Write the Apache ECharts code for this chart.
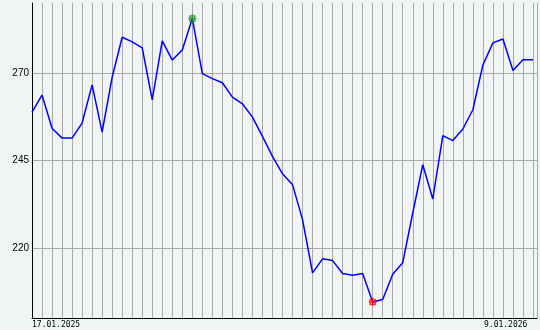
<!DOCTYPE html>
<html>
<head>
<meta charset="utf-8">
<script src="https://cdn.jsdelivr.net/npm/echarts@6/dist/echarts.min.js"></script>
<style>
html,body{margin:0;padding:0;background:#f1f4f4;}
#chart{width:540px;height:330px;}
</style>
</head>
<body>
<div id="chart"></div>
<script>
// weekly closing values, first week = 17.01.2025
var values = [
  258.8, 263.7, 254.2, 251.4, 251.4, 255.7, 266.6, 253.1, 268.8, 280.2,
  278.9, 277.2, 262.3, 279.2, 273.7, 276.6, 285.6, 269.8, 268.4, 267.2,
  263.1, 261.2, 257.4, 251.9, 246.2, 241.2, 238.1, 228.1, 212.9, 216.9,
  216.4, 212.7, 212.2, 212.7, 204.6, 205.3, 212.5, 215.8, 230.0, 243.8,
  234.0, 252.1, 250.7, 254.0, 259.5, 272.3, 278.6, 279.7, 270.7, 273.8,
  273.8
];
var xLabels = ['17.01.2025', '9.01.2026'];
var yTicks = [220, 245, 270];
var xMin = 0, xMax = 50.4;
var yMin = 200, yMax = 290, yStep = 5;

var lineData = values.map(function (v, i) { return [i, v]; });
var maxIdx = 0, minIdx = 0;
values.forEach(function (v, i) {
  if (v > values[maxIdx]) maxIdx = i;
  if (v < values[minIdx]) minIdx = i;
});

var gridColors = [];
for (var t = yMin; t <= yMax; t += yStep) {
  gridColors.push(yTicks.indexOf(t) >= 0 ? '#aaaaaa' : 'rgba(0,0,0,0)');
}

var markerPath = 'path://M0,4H8M4,0V8M1.5,1.5H6.5V6.5H1.5Z';

var chart = echarts.init(document.getElementById('chart'), null, {renderer: 'canvas'});
chart.setOption({
  backgroundColor: '#f1f4f4',
  animation: false,
  grid: {left: 32, right: 0, top: 3, bottom: 12, containLabel: false},
  xAxis: {
    type: 'value',
    min: xMin, max: xMax, interval: 1,
    axisLine: {show: true, onZero: false, lineStyle: {color: '#000', width: 1}},
    axisTick: {show: false},
    splitLine: {show: true, lineStyle: {color: '#aaaaaa', width: 1}},
    axisLabel: {
      show: true, margin: 3,
      fontFamily: 'DejaVu Sans Mono', fontSize: 8, color: '#000',
      showMinLabel: true, showMaxLabel: true,
      alignMinLabel: 'left', alignMaxLabel: 'right',
      formatter: function (v) {
        if (v === xMin) return xLabels[0];
        if (v > 50) return xLabels[1] + '  ';
        return '';
      }
    }
  },
  yAxis: {
    type: 'value',
    min: yMin, max: yMax, interval: yStep,
    axisLine: {show: true, lineStyle: {color: '#000', width: 1}},
    axisTick: {show: false},
    splitLine: {show: true, lineStyle: {color: gridColors, width: 1}},
    axisLabel: {
      margin: 3, fontFamily: 'Liberation Sans', fontSize: 10, color: '#000',
      formatter: function (v) { return yTicks.indexOf(v) >= 0 ? String(v) : ''; }
    }
  },
  series: [
    {
      type: 'line',
      data: lineData,
      showSymbol: false,
      symbol: 'none',
      lineStyle: {color: '#0000ff', width: 1.5},
      z: 3
    },
    {
      type: 'scatter',
      data: [[maxIdx, values[maxIdx]]],
      symbol: markerPath, symbolSize: 8,
      itemStyle: {color: 'rgba(0,0,0,0)', borderColor: '#1a8a1a', borderWidth: 1.5},
      z: 4
    },
    {
      type: 'scatter',
      data: [[minIdx, values[minIdx]]],
      symbol: markerPath, symbolSize: 8,
      itemStyle: {color: 'rgba(0,0,0,0)', borderColor: '#ff0000', borderWidth: 1.5},
      z: 4
    }
  ]
});
</script>
</body>
</html>
